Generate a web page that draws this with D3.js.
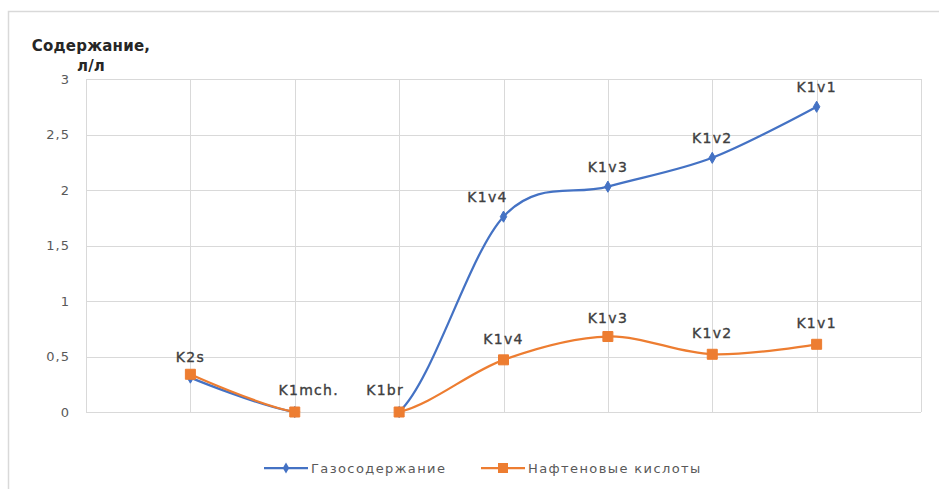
<!DOCTYPE html>
<html>
<head>
<meta charset="utf-8">
<script src="https://cdn.jsdelivr.net/npm/d3@7"></script>
<style>
  html, body { margin: 0; padding: 0; background: #ffffff; }
  svg { display: block; font-family: "DejaVu Sans", sans-serif; }
</style>
</head>
<body>
<svg id="chart" width="939" height="489"></svg>
<script>
// Stratigraphic units along the section
const categories = ["K2s", "K1mch.", "K1br", "K1v4", "K1v3", "K1v2", "K1v1"];
// Gas content, l/l
const gasValues = [0.31, 0, 0, 1.76, 2.03, 2.29, 2.75];
// Naphthenic acids
const acidValues = [0.34, 0, 0, 0.47, 0.68, 0.52, 0.61];
const seriesNames = ["Газосодержание", "Нафтеновые кислоты"];
const yTicks = [0, 0.5, 1, 1.5, 2, 2.5, 3];
const yTitle = ["Содержание,", "л/л"];

// Which points carry a unit label, and small nudges so labels don't collide
const gasLabelShown = [false, false, false, true, true, true, true];
const acidLabelShown = [true, true, true, true, true, true, true];
const gasLabelDx = [0, 0, 0, -16, 0, 0, 0];
const acidLabelDx = [0, 14, -14, 0, 0, 0, 0];
const gasLabelDy = [-15, -15, -15, -15, -15, -15, -15];
const acidLabelDy = [-12, -17, -17, -16, -14, -16, -16];

const BLUE = "#4472C4", ORANGE = "#ED7D31", GRID = "#d9d9d9";

const svg = d3.select("#chart");
const plot = { left: 86, right: 921, top: 79, bottom: 412 };

const x = d3.scaleLinear().domain([0, categories.length + 1]).range([plot.left, plot.right]);
const y = d3.scaleLinear().domain([0, 3]).range([plot.bottom, plot.top]);

// Outer chart frame
svg.append("rect")
  .attr("x", 8.5).attr("y", 11.5).attr("width", 940).attr("height", 490)
  .attr("fill", "none").attr("stroke", GRID).attr("stroke-width", 1.5);

// Gridlines
const grid = svg.append("g");
grid.selectAll("line.h").data(yTicks).join("line")
  .attr("x1", plot.left).attr("x2", plot.right)
  .attr("y1", d => Math.round(y(d)) + 0.5).attr("y2", d => Math.round(y(d)) + 0.5)
  .attr("stroke", GRID).attr("stroke-width", 1);
grid.selectAll("line.v").data(d3.range(0, categories.length + 2)).join("line")
  .attr("x1", d => Math.round(x(d)) + 0.5).attr("x2", d => Math.round(x(d)) + 0.5)
  .attr("y1", plot.top).attr("y2", plot.bottom)
  .attr("stroke", GRID).attr("stroke-width", 1);

// Y axis tick labels
const fmt = d => String(d).replace(".", ",");
const yAxis = d3.axisLeft(y).tickValues(yTicks).tickFormat(fmt).tickSize(0).tickPadding(0);
const yAxisG = svg.append("g").attr("transform", `translate(${plot.left - 16},0)`).call(yAxis);
yAxisG.select(".domain").remove();
yAxisG.selectAll("text")
  .attr("fill", "#595959").attr("font-size", 13).attr("letter-spacing", 1)
  .attr("font-family", "DejaVu Sans, sans-serif");

// Axis title
svg.append("text")
  .attr("x", 91).attr("text-anchor", "middle")
  .attr("font-weight", "bold").attr("font-size", 15).attr("fill", "#262626")
  .attr("letter-spacing", 0.2)
  .selectAll("tspan").data(yTitle).join("tspan")
  .attr("x", 91).attr("y", (d, i) => 51 + i * 20).text(d => d);

// Series
svg.append("clipPath").attr("id", "plotClip")
  .append("rect").attr("x", plot.left).attr("y", plot.top - 20)
  .attr("width", plot.right - plot.left).attr("height", plot.bottom - plot.top + 20);

const line = d3.line()
  .x((d, i) => x(i + 1)).y(d => y(d))
  .curve(d3.curveCardinal.tension(0));

const series = [
  { name: seriesNames[0], values: gasValues, color: BLUE, marker: "diamond",
    shown: gasLabelShown, dx: gasLabelDx, dy: gasLabelDy },
  { name: seriesNames[1], values: acidValues, color: ORANGE, marker: "square",
    shown: acidLabelShown, dx: acidLabelDx, dy: acidLabelDy }
];

const symbolFor = m => m === "diamond"
  ? d3.symbol().type(d3.symbolDiamond).size(36)
  : d3.symbol().type(d3.symbolSquare).size(100);

series.forEach(s => {
  svg.append("path")
    .attr("d", line(s.values))
    .attr("fill", "none").attr("stroke", s.color).attr("stroke-width", 2.25)
    .attr("stroke-linejoin", "round").attr("stroke-linecap", "round")
    .attr("clip-path", "url(#plotClip)");
});

series.forEach(s => {
  svg.append("g").selectAll("path").data(s.values).join("path")
    .attr("transform", (d, i) => `translate(${x(i + 1)},${y(d)})`)
    .attr("d", symbolFor(s.marker)())
    .attr("fill", s.color).attr("stroke", s.color).attr("stroke-width", 1);
});

// Unit labels above points
series.forEach(s => {
  svg.append("g").selectAll("text")
    .data(s.values.map((v, i) => ({ v, i })).filter(d => s.shown[d.i]))
    .join("text")
    .attr("x", d => x(d.i + 1) + s.dx[d.i])
    .attr("y", d => y(d.v) + s.dy[d.i])
    .attr("text-anchor", "middle")
    .attr("font-size", 14).attr("letter-spacing", 1.3)
    .attr("fill", "#404040").attr("stroke", "#404040").attr("stroke-width", 0.35)
    .text(d => categories[d.i]);
});

// Legend
const legend = svg.append("g").attr("transform", "translate(0,468)");
const legendX = [264, 481];
series.forEach((s, k) => {
  const g = legend.append("g").attr("transform", `translate(${legendX[k]},0)`);
  g.append("line").attr("x1", 0).attr("x2", 44).attr("y1", 0).attr("y2", 0)
    .attr("stroke", s.color).attr("stroke-width", 2.25);
  g.append("path").attr("transform", "translate(22,0)")
    .attr("d", symbolFor(s.marker)()).attr("fill", s.color);
  g.append("text").attr("x", 47).attr("y", 5)
    .attr("font-size", 13).attr("letter-spacing", 1.4).attr("fill", "#595959")
    .text(s.name);
});
</script>
</body>
</html>
